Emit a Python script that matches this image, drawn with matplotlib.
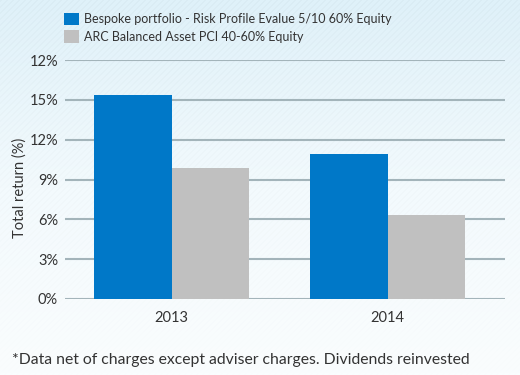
import numpy as np
import matplotlib
matplotlib.use("Agg")
import matplotlib.pyplot as plt
from matplotlib.colors import LinearSegmentedColormap

categories = ["2013", "2014"]
series_names = ["Bespoke portfolio - Risk Profile Evalue 5/10 60% Equity",
                "ARC Balanced Asset PCI 40-60% Equity"]
bespoke = [15.4, 10.95]
arc = [9.9, 6.3]
tick_vals = [0, 3, 6, 9, 12, 15, 18]
tick_labels = ["0%", "3%", "6%", "9%", "12%", "15%", "12%"]

plt.rcParams['font.family'] = ['Lato', 'DejaVu Sans']
txt = "#333333"

W, H = 520, 375
fig = plt.figure(figsize=(W/100, H/100), dpi=100)

# background gradient with faint diagonal stripes
bg = fig.add_axes([0, 0, 1, 1], zorder=-10)
yy = np.linspace(0, 1, H)[:, None]
xx = np.arange(W)[None, :]
rr = np.arange(H)[:, None]
cmap = LinearSegmentedColormap.from_list("bg", ["#DFF1F9", "#F3FAFD", "#FAFDFE"])
base = cmap(np.broadcast_to(yy, (H, W)))[:, :, :3].copy()
stripe = (((xx + rr) % 6) < 2).astype(float)
base -= stripe[:, :, None] * 0.018 * (1 - yy[:, :, None] * 0.8)
bg.imshow(np.clip(base, 0, 1), aspect='auto', extent=[0, 1, 0, 1], origin='upper')
bg.axis('off')

ax = fig.add_axes([65/W, 1 - 299/H, 440/W, 239/H])
ax.patch.set_alpha(0)
x = np.arange(len(categories))
w = 0.36
b1 = ax.bar(x - w/2, bespoke, w, color="#0078C8", zorder=3, label=series_names[0])
b2 = ax.bar(x + w/2, arc, w, color="#C0C0C0", zorder=3, label=series_names[1])
ax.set_xlim(-0.494, 1.543)
ax.set_ylim(0, 18)
ax.set_yticks(tick_vals)
ax.set_yticklabels(tick_labels)
ax.yaxis.grid(True, color="#A3B4BA", linewidth=1.5, zorder=1)
ax.set_xticks(x)
ax.set_xticklabels(categories)
ax.tick_params(axis='both', length=0, labelsize=10.5, colors=txt)
ax.tick_params(axis='y', pad=5)
ax.tick_params(axis='x', pad=9)
for s in ax.spines.values():
    s.set_visible(False)
ax.set_ylabel("Total return (%)", fontsize=10.5, color=txt)
ax.yaxis.set_label_coords(-0.088, 0.464)

fig.legend(handles=[b1, b2], labels=series_names, loc='upper left',
           bbox_to_anchor=(61/W, 1 - 10/H), frameon=False, fontsize=9,
           labelcolor=txt, handlelength=1.2, handleheight=1.2, handletextpad=0.4,
           labelspacing=0.4, borderaxespad=0, borderpad=0.2)

fig.text(12/W, 1 - 360/H, "*Data net of charges except adviser charges. Dividends reinvested",
         fontsize=11.3, color=txt, va='center', ha='left')

fig.savefig("out.png", dpi=100)
